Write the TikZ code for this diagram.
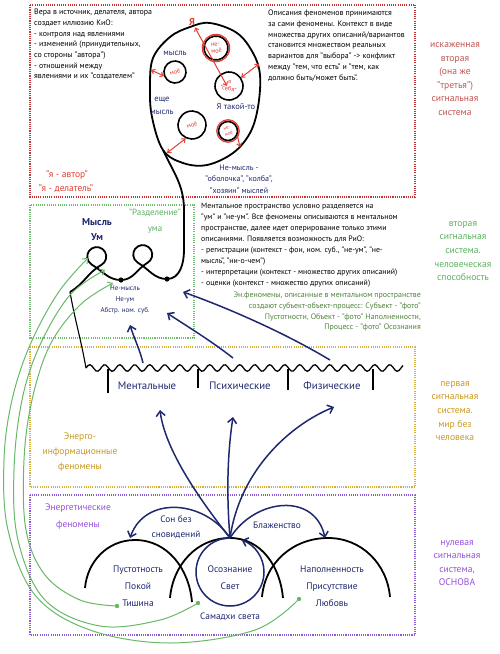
\documentclass[tikz,border=0pt]{standalone}
\usepackage{fontspec}
\setmainfont{PT Sans}
\usetikzlibrary{arrows.meta}

\definecolor{navy}{RGB}{30,40,110}
\definecolor{markred}{RGB}{222,62,52}
\definecolor{boxred}{RGB}{196,52,52}
\definecolor{labred}{RGB}{192,84,80}
\definecolor{boxgreen}{RGB}{110,190,110}
\definecolor{labgreen}{RGB}{92,176,96}
\definecolor{txtgreen}{RGB}{78,130,58}
\definecolor{boxgold}{RGB}{214,176,60}
\definecolor{labgold}{RGB}{200,152,32}
\definecolor{boxpurple}{RGB}{140,90,210}
\definecolor{labpurple}{RGB}{150,80,220}
\definecolor{linegreen}{RGB}{104,184,104}

\tikzset{
  zonebox/.style={line width=1.1pt, dash pattern=on 1.1pt off 1.1pt},
  note/.style={font=\fontsize{7.9}{10.7}\selectfont, align=left, anchor=north west},
  zone/.style={font=\fontsize{9.6}{13.6}\selectfont, align=center},
  lbl/.style={text=navy, align=center},
}

\begin{document}
\begin{tikzpicture}[x=1pt, y=1pt, inner sep=0pt,
  ring/.style={circle, draw, line width=1.6pt, text=markred,
    font=\fontsize{6.3}{7}\selectfont, align=center},
  redarr/.style={markred, line width=1pt,
    {Straight Barb[length=3pt,width=5pt]}-{Straight Barb[length=3pt,width=5pt]}},
  bluearr/.style={navy, line width=1.5pt, -{Straight Barb[length=5pt,width=9pt]}},
  greenarr/.style={linegreen, line width=1pt, -{Straight Barb[length=4pt,width=7pt]}},
  arch/.style={line width=1.8pt},
]
  \useasboundingbox (0,0) rectangle (500,-654);

  % the four signal-system zones
  \draw[zonebox, boxred] (30,-5) rectangle (415,-197);
  \draw[zonebox, boxgreen] (30,-205) rectangle (194,-338);
  \draw[zonebox, boxgold] (30,-347) rectangle (415,-487);
  \draw[zonebox, boxpurple] (30,-495) rectangle (415,-635);

  \node[zone, text=labred] (zred) at (455,-79) {искаженная\\вторая\\(она же\\"третья")\\сигнальная\\система};
  \node[zone, text=labgreen] (zgreen) at (463,-251) {вторая\\сигнальная\\система.\\человеческая\\способность};
  \node[zone, text=labgold] (zgold) at (455,-411) {первая\\сигнальная\\система.\\мир без\\человека};
  \node[zone, text=labpurple] (zpurple) at (457,-563) {нулевая\\сигнальная\\система,\\ОСНОВА};

  % distorted second system: notes and the bubble of thoughts
  \node[note] (vera) at (34,-9) {Вера в источник, делателя, автора\\создает иллюзию КиО:\\- контроля над явлениями\\- изменений (принудительных,\\со стороны "автора")\\- отношений между\\явлениями и их "создателем"};
  \node[note] (opis) at (268,-10) {Описания феноменов принимаются\\за сами феномены. Контекст в виде\\множества других описаний/вариантов\\становится множеством реальных\\вариантов для "выбора" -> конфликт\\между "тем, что есть" и "тем, как\\должно быть/может быть".};
  \node[text=markred, font=\fontsize{9.5}{11}\selectfont] (avtor) at (67,-175) {"я - автор"};
  \node[text=markred, font=\fontsize{9.5}{11}\selectfont] (delatel) at (66,-189) {"я - делатель"};

  \draw[line width=1.8pt] plot[smooth cycle, tension=0.6] coordinates {(163,-150) (152,-117) (150,-87)
    (153,-58) (170,-37) (190,-27) (210,-23) (237,-33) (253,-53) (260,-75) (258,-107) (250,-133)
    (233,-153) (207,-165) (183,-163)};

  \node[ring, minimum size=22pt, rotate=20] (moeA) at (175,-72) {моё};
  \node[ring, minimum size=24pt, rotate=10] (nemoeA) at (216,-48) {не-\\моё};
  \draw[markred, line width=1.3pt] (nemoeA) circle (13.6);
  \node[ring, minimum size=28pt, rotate=-10] (sebya) at (229,-86) {я\\"себя"};
  \node[ring, minimum size=28pt, rotate=20] (moeB) at (192,-125) {моё};
  \node[ring, minimum size=19pt, rotate=20, font=\fontsize{4.8}{6.2}\selectfont] (nemoeB) at (228,-131) {не-\\моё};
  \draw[markred, line width=1.3pt] (nemoeB) circle (11.2);

  \node[lbl, font=\fontsize{8.5}{10}\selectfont] (mysl) at (175,-53) {мысль};
  \node[lbl, font=\fontsize{8.5}{12.5}\selectfont] (esche) at (162,-106) {еще\\мысль};
  \node[lbl, font=\fontsize{8.5}{10}\selectfont] (takoy) at (236,-107) {Я такой-то};
  \node[lbl, font=\fontsize{8}{11.5}\selectfont] (obolochka) at (239,-179) {Не-мысль -\\"оболочка", "колба",\\"хозяин" мыслей};
  \node[text=markred, font=\fontsize{10}{10}\selectfont\bfseries] (ya) at (192,-22) {Я};

  \coordinate (bubL) at (151,-70);
  \coordinate (bubR) at (259,-64);
  \coordinate (bubBL) at (167,-153);
  \coordinate (bubBR) at (240,-147);
  \coordinate (sebyaIn) at (227,-86);
  \draw[redarr] (bubL) -- (moeA.west);
  \draw[redarr, shorten <=2pt] (ya) -- (sebyaIn);
  \draw[redarr] (sebya.north east) -- (bubR);
  \draw[redarr] (moeB.south west) -- (bubBL);
  \draw[markred, line width=1pt, -{Straight Barb[length=3pt,width=5pt]}] (nemoeB.south east) -- (bubBR);

  % second system: mind with its two loops, hanging from the bubble
  \draw[line width=1.8pt] (70,-292) to[out=30, in=210] (101.5,-264.8)
    arc[start angle=-60, end angle=240, radius=9.5] to[out=-30, in=180] (121,-280)
    to[out=0, in=210] (147.5,-262.8)
    arc[start angle=-60, end angle=240, radius=9.5] to[out=-30, in=180] (167,-279)
    to[out=0, in=-90] (184,-250) -- (184,-210) to[out=90, in=-65] (163,-150);
  \fill (121,-280) circle (2.6);
  \fill (167,-279) circle (2.6);
  \draw[line width=1.1pt] (70,-292) to[out=-80, in=100] (86,-368);

  \node[lbl, font=\fontsize{10}{15}\selectfont\bfseries] (myslum) at (97,-230) {Мысль\\Ум};
  \node[text=labgreen, font=\fontsize{9}{16}\selectfont, align=center] (razdel) at (155,-221) {"Разделение"\\ума};
  \node[lbl, font=\fontsize{7}{11}\selectfont] (neum) at (125,-300) {Не-мысль\\Не-ум\\Абстр. ном. суб.};

  \node[note, font=\fontsize{7.8}{11}\selectfont] (mental) at (201,-203) {Ментальное пространство условно разделяется на\\"ум" и "не-ум". Все феномены описываются в ментальном\\пространстве, далее идет оперирование только этими\\описаниями. Появляется возможность для РиО:\\- регистрации (контекст - фон, ном. суб., "не-ум", "не-\\мысль", "ни-о-чем")\\- интерпретации (контекст - множество других описаний)\\- оценки (контекст - множество других описаний)};
  \node[font=\fontsize{7.9}{10.7}\selectfont, text=txtgreen, align=right, anchor=north east] (enfen) at (421,-292) {Эн.феномены, описанные в ментальном пространстве\\создают субъект-объект-процесс: Субъект - "фото"\\Пустотности, Объект - "фото" Наполненности,\\Процесс - "фото" Осознания};

  % first system: the wavy border of phenomena
  \draw[line width=1.3pt] plot[domain=86:403, samples=160, smooth] (\x, {-368+3.3*sin(24*(\x-86))});
  \foreach \x/\b in {108/393, 198/388, 288/390, 373/390}
    \draw[line width=1.1pt] (\x,-369) -- (\x,-\b);

  \node[lbl, font=\fontsize{10.8}{12}\selectfont] (mentalnye) at (147,-386) {Ментальные};
  \node[lbl, font=\fontsize{10.8}{12}\selectfont] (psih) at (240,-386) {Психические};
  \node[lbl, font=\fontsize{10.8}{12}\selectfont] (fiz) at (332,-386) {Физические};
  \node[text=labgold, font=\fontsize{9.5}{15}\selectfont, align=center] (eninfo) at (80,-452) {Энерго-\\информационные\\феномены};

  \coordinate (wA) at (143,-363); \coordinate (tA) at (130,-325);
  \coordinate (wB) at (233,-358); \coordinate (tB) at (167,-313);
  \coordinate (wC) at (330,-360); \coordinate (tC) at (183,-292);
  \draw[bluearr] (wA) .. controls (140,-350) and (134,-338) .. (tA);
  \draw[bluearr] (wB) .. controls (210,-340) and (185,-325) .. (tB);
  \draw[bluearr] (wC) .. controls (280,-330) and (220,-305) .. (tC);

  % zero system: energy phenomena
  \node[text=labpurple, font=\fontsize{9.5}{17}\selectfont, align=center] (energ) at (78,-516.5) {Энергетические\\феномены};
  \draw[arch] (85,-588) to[out=85, in=180] (135,-540) to[out=0, in=95] (192,-602);
  \draw[arch] (170,-598) to[out=85, in=180] (230,-538) to[out=0, in=95] (283,-598);
  \draw[arch] (262,-597) to[out=85, in=180] (328,-538) to[out=0, in=95] (390,-597);

  \node[lbl, font=\fontsize{9.5}{17}\selectfont] (pust) at (138,-586) {Пустотность\\Покой\\Тишина};
  \node[lbl, font=\fontsize{9.5}{17}\selectfont] (osozn) at (230,-577.5) {Осознание\\Свет};
  \node[lbl, font=\fontsize{9.5}{17}\selectfont] (napoln) at (332,-586) {Наполненность\\Присутствие\\Любовь};
  \node[lbl, font=\fontsize{9.3}{15}\selectfont] (son) at (176,-527) {Сон без\\сновидений};
  \node[lbl, font=\fontsize{9.3}{11}\selectfont] (blazh) at (277,-525) {Блаженство};
  \node[lbl, font=\fontsize{9.3}{11}\selectfont] (samadhi) at (230,-617) {Самадхи света};

  \coordinate (hub) at (230,-538);
  \coordinate (tipPust) at (130,-538);
  \coordinate (tipNap) at (325,-538);
  \coordinate (tipMent) at (160,-410);
  \coordinate (tipPsih) at (233,-417);
  \coordinate (tipFiz) at (334,-407);
  \draw[navy, line width=1.5pt, -{Straight Barb[length=5pt,width=9pt]}] (hub) arc[start angle=90, end angle=430, radius=34];
  \draw[bluearr] (hub) .. controls (205,-500) and (145,-495) .. (tipPust);
  \draw[bluearr] (hub) .. controls (255,-498) and (315,-492) .. (tipNap);
  \draw[bluearr] (hub) .. controls (200,-500) and (165,-450) .. (tipMent);
  \draw[bluearr] (hub) .. controls (226,-490) and (228,-450) .. (tipPsih);
  \draw[bluearr] (hub) .. controls (240,-470) and (290,-425) .. (tipFiz);

  % green links from the energy level back up to the mind
  \coordinate (gdotA) at (299,-599);
  \coordinate (gdotB) at (198,-603);
  \coordinate (gdotC) at (117,-606);
  \draw[greenarr] plot[smooth, tension=0.6] coordinates {(gdotA) (255,-630) (170,-643) (90,-630)
    (35,-595) (8,-530) (4,-460) (12,-400) (30,-345) (58,-293) (88,-258)};
  \draw[greenarr] plot[smooth, tension=0.6] coordinates {(gdotB) (160,-620) (100,-626) (45,-600)
    (18,-540) (14,-470) (22,-400) (40,-345) (70,-295) (105,-270)};
  \draw[greenarr] plot[smooth, tension=0.6] coordinates {(gdotC) (80,-600) (45,-575) (26,-530)
    (24,-460) (32,-400) (50,-345) (80,-305) (113,-283)};
  \foreach \d in {gdotA, gdotB, gdotC}
    \fill[linegreen] (\d) circle (2.2);
\end{tikzpicture}
\end{document}
